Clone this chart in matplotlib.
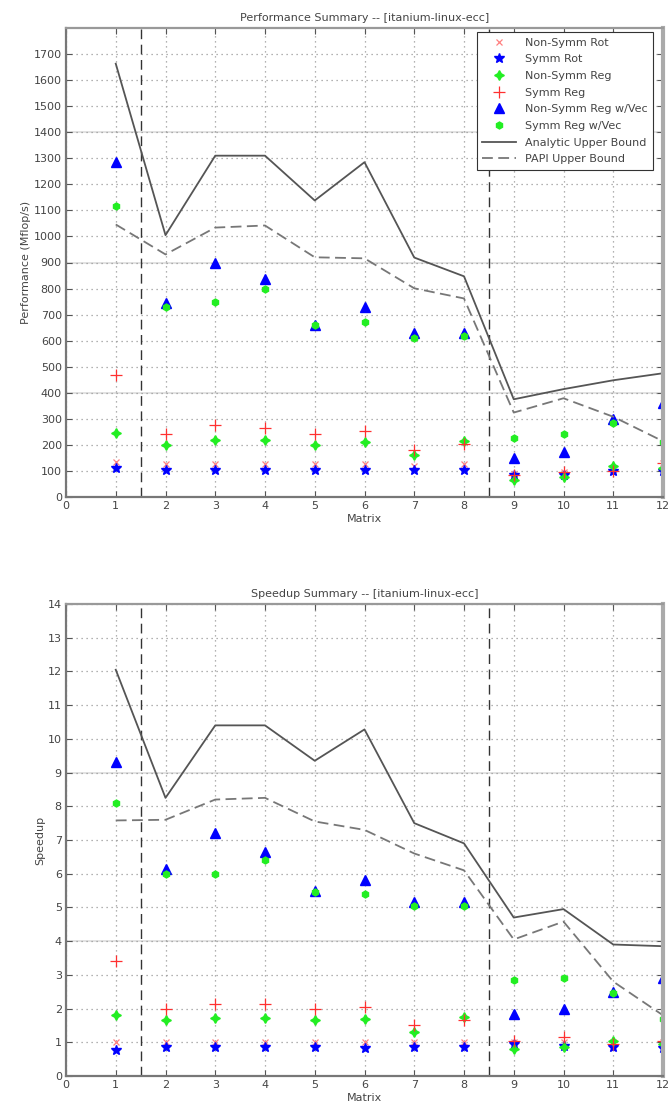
import matplotlib
matplotlib.use("Agg")
import matplotlib.pyplot as plt
import numpy as np

matrices = list(range(1, 13))

# ---- Performance (Mflop/s) ----
perf_nonsymm_rot = [135, 125, 125, 125, 125, 125, 120, 125, 90, 95, 100, 130]
perf_symm_rot = [110, 102, 105, 105, 102, 105, 102, 105, 85, 85, 100, 100]
perf_nonsymm_reg = [245, 200, 220, 220, 200, 210, 160, 215, 65, 75, 120, 112]
perf_symm_reg = [470, 240, 275, 265, 240, 255, 180, 205, 85, 95, 100, 130]
perf_nonsymm_vec = [1285, 745, 900, 835, 660, 730, 628, 630, 148, 172, 298, 360]
perf_symm_vec = [1118, 728, 750, 800, 660, 672, 612, 618, 228, 243, 285, 210]
perf_analytic = [1663, 1005, 1310, 1310, 1138, 1285, 919, 847, 375, 414, 448, 475]
perf_papi = [1046, 931, 1034, 1042, 920, 916, 801, 762, 324, 379, 308, 214]

# ---- Speedup ----
sp_nonsymm_rot = [1.0, 1.0, 1.0, 1.0, 1.0, 1.0, 1.0, 1.0, 1.0, 1.0, 1.0, 1.0]
sp_symm_rot = [0.78, 0.85, 0.85, 0.85, 0.85, 0.83, 0.85, 0.85, 0.95, 0.9, 0.85, 0.82]
sp_nonsymm_reg = [1.8, 1.65, 1.72, 1.72, 1.65, 1.7, 1.3, 1.75, 0.8, 0.85, 1.05, 0.95]
sp_symm_reg = [3.4, 1.98, 2.13, 2.13, 1.98, 2.05, 1.52, 1.65, 1.05, 1.15, 0.95, 1.03]
sp_nonsymm_vec = [9.3, 6.15, 7.2, 6.65, 5.5, 5.8, 5.15, 5.15, 1.85, 2.0, 2.5, 2.9]
sp_symm_vec = [8.1, 6.0, 6.0, 6.4, 5.45, 5.4, 5.05, 5.05, 2.85, 2.9, 2.45, 1.7]
sp_analytic = [12.05, 8.25, 10.4, 10.4, 9.35, 10.28, 7.5, 6.9, 4.7, 4.95, 3.9, 3.85]
sp_papi = [7.58, 7.6, 8.2, 8.25, 7.55, 7.3, 6.6, 6.1, 4.05, 4.58, 2.8, 1.8]

labels = ["Non-Symm Rot", "Symm Rot", "Non-Symm Reg", "Symm Reg",
          "Non-Symm Reg w/Vec", "Symm Reg w/Vec",
          "Analytic Upper Bound", "PAPI Upper Bound"]

FS = 8
TXT = '#444444'
plt.rcParams['font.family'] = ['DejaVu Sans']
plt.rcParams['font.size'] = FS
plt.rcParams['text.color'] = TXT
plt.rcParams['axes.labelcolor'] = TXT
plt.rcParams['xtick.labelcolor'] = TXT
plt.rcParams['ytick.labelcolor'] = TXT

fig = plt.figure(figsize=(6.7, 11.14), dpi=100)
ax1 = fig.add_axes([66/670, 1-497/1114, (663-66)/670, (497-28)/1114])
ax2 = fig.add_axes([66/670, 1-1076/1114, (663-66)/670, (1076-604)/1114])


def draw(ax, series, ymax, yticks, solid_levels, title, ylabel, legend):
    nsr, sr, nsg, sg, nsv, sv, an, pp = series
    ax.plot(matrices, nsr, linestyle='none', marker='x', color='#ff8080',
            ms=5, mew=0.9, label=labels[0])
    ax.plot(matrices, sr, linestyle='none', marker='*', color='#0000ff',
            ms=7, label=labels[1])
    ax.plot(matrices, nsg, linestyle='none', marker=(4, 1, 0), color='#22ee22',
            ms=7, label=labels[2])
    ax.plot(matrices, sg, linestyle='none', marker='+', color='#ff3030',
            ms=8, mew=0.9, label=labels[3])
    ax.plot(matrices, nsv, linestyle='none', marker='^', color='#0000ff',
            ms=7, label=labels[4])
    ax.plot(matrices, sv, linestyle='none', marker='h', color='#22ee22',
            ms=5, label=labels[5])
    ax.plot(matrices, an, '-', color='#555555', lw=1.3, label=labels[6])
    ax.plot(matrices, pp, '--', color='#777777', lw=1.3, dashes=(6, 3),
            label=labels[7])
    for xv in (1.5, 8.5):
        ax.axvline(xv, color='#333333', lw=1.0, ls=(0, (7, 4)), zorder=1)
    for lv in solid_levels:
        ax.axhline(lv, color='#dddddd', lw=1.2, zorder=0)
    ax.set_xlim(0, 12)
    ax.set_ylim(0, ymax)
    ax.set_xticks(range(0, 13))
    ax.set_yticks(yticks)
    ax.grid(True, linestyle=(0, (1, 3)), color='#999999', lw=0.9)
    ax.set_axisbelow(True)
    ax.tick_params(direction='in', top=True, right=True, length=4,
                   labelsize=FS, color='#555555', pad=3)
    for s in ax.spines.values():
        s.set_color('#777777')
        s.set_linewidth(1.6)
    ax.spines['right'].set_linewidth(3)
    ax.spines['right'].set_color('#aaaaaa')
    ax.spines['top'].set_color('#999999')
    ax.set_title(title, fontsize=FS, pad=5)
    ax.set_xlabel('Matrix', fontsize=FS, labelpad=2)
    ax.set_ylabel(ylabel, fontsize=FS, labelpad=2)
    if legend:
        lg = ax.legend(loc='upper right', bbox_to_anchor=(0.983, 0.9915),
                       fontsize=FS, frameon=True,
                       fancybox=False, edgecolor='#333333', framealpha=1,
                       handlelength=3.0, borderpad=0.5, labelspacing=0.6,
                       borderaxespad=0.0, handletextpad=0.8)
        lg.get_frame().set_linewidth(0.8)


draw(ax1, [perf_nonsymm_rot, perf_symm_rot, perf_nonsymm_reg, perf_symm_reg,
           perf_nonsymm_vec, perf_symm_vec, perf_analytic, perf_papi],
     1800, range(0, 1800, 100), [400, 900, 1400],
     'Performance Summary -- [itanium-linux-ecc]', 'Performance (Mflop/s)', True)

draw(ax2, [sp_nonsymm_rot, sp_symm_rot, sp_nonsymm_reg, sp_symm_reg,
           sp_nonsymm_vec, sp_symm_vec, sp_analytic, sp_papi],
     14, range(0, 15), [4, 9],
     'Speedup Summary -- [itanium-linux-ecc]', 'Speedup', False)

fig.savefig('out.png', dpi=100)
